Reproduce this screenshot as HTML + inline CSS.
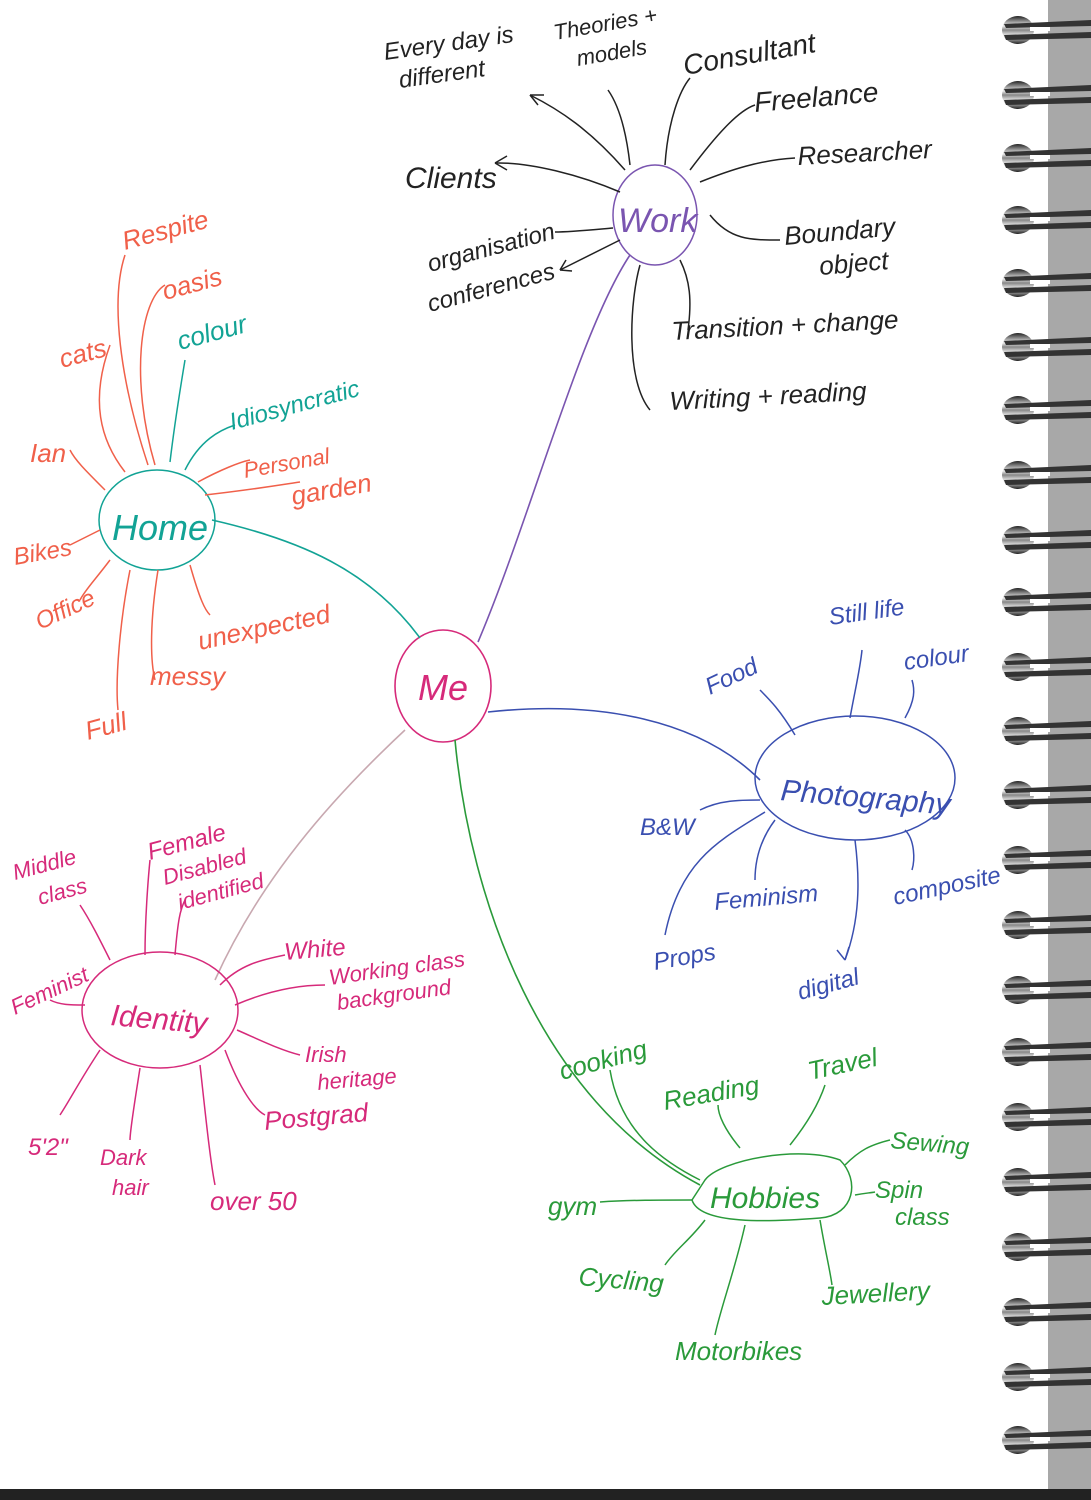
<!DOCTYPE html>
<html><head><meta charset="utf-8"><style>
html,body{margin:0;padding:0;background:#fff}
svg{display:block}
text{font-family:"Liberation Sans",sans-serif;font-style:italic}
</style></head><body>
<svg width="1091" height="1500" viewBox="0 0 1091 1500" xmlns="http://www.w3.org/2000/svg">
<defs>
<linearGradient id="ring" x1="0" y1="0" x2="0" y2="1">
<stop offset="0" stop-color="#222"/><stop offset="0.35" stop-color="#eee"/><stop offset="0.5" stop-color="#888"/><stop offset="0.7" stop-color="#eee"/><stop offset="1" stop-color="#222"/>
</linearGradient>
<g id="r">
<ellipse cx="1018" cy="0" rx="16" ry="14" fill="url(#ring)"/>
<path d="M1004,-6 L1091,-10 L1091,-4 L1006,-2 Z" fill="#333"/>
<path d="M1004,5 L1091,2 L1091,8 L1006,10 Z" fill="#333"/>
<rect x="1030" y="-3" width="20" height="4" fill="#fff"/>
</g>
</defs>
<rect x="1048" y="0" width="43" height="1500" fill="#a8a8a8"/>
<rect x="0" y="1489" width="1091" height="11" fill="#222"/>
<g>
<use href="#r" y="30"/><use href="#r" y="95"/><use href="#r" y="158"/><use href="#r" y="220"/><use href="#r" y="283"/><use href="#r" y="347"/><use href="#r" y="410"/><use href="#r" y="475"/><use href="#r" y="540"/><use href="#r" y="602"/><use href="#r" y="667"/><use href="#r" y="731"/><use href="#r" y="795"/><use href="#r" y="860"/><use href="#r" y="925"/><use href="#r" y="990"/><use href="#r" y="1052"/><use href="#r" y="1117"/><use href="#r" y="1182"/><use href="#r" y="1247"/><use href="#r" y="1312"/><use href="#r" y="1377"/><use href="#r" y="1440"/>
</g>

<!-- Me -->
<g fill="none" stroke-width="1.6">
<ellipse cx="443" cy="686" rx="48" ry="56" stroke="#d62a7a"/>
<path d="M212,520 C300,540 370,570 420,638" stroke="#12a395"/>
<path d="M478,642 C530,520 580,330 630,255" stroke="#7a55b0"/>
<path d="M488,712 C600,700 700,720 760,780" stroke="#3a4fb0"/>
<path d="M455,740 C470,900 540,1100 700,1185" stroke="#2a9a3a"/>
<path d="M405,730 C330,800 260,880 215,980" stroke="#c8a8b0"/>
</g>
<text x="418" y="700" font-size="36" fill="#d62a7a">Me</text>

<!-- Home -->
<g fill="none" stroke-width="1.5" stroke="#f0604a">
<ellipse cx="157" cy="520" rx="58" ry="50" stroke="#12a395"/>
<path d="M148,465 C120,380 110,300 125,255"/>
<path d="M155,465 C130,380 140,300 165,285"/>
<path d="M125,472 C100,440 90,400 110,345"/>
<path d="M105,490 C85,470 75,460 70,450"/>
<path d="M100,530 L70,545"/>
<path d="M110,560 C95,580 85,590 80,600"/>
<path d="M130,570 C120,620 115,680 118,710"/>
<path d="M158,570 C150,620 150,660 155,680"/>
<path d="M190,565 C200,600 205,610 210,615"/>
<path d="M205,495 C250,490 280,485 300,482"/>
<path d="M198,482 C220,470 240,462 250,460" stroke="#f0604a"/>
<path d="M185,470 C200,440 220,430 235,425" stroke="#12a395"/>
<path d="M170,462 C175,420 180,390 185,360" stroke="#12a395"/>
</g>
<text x="112" y="540" font-size="36" fill="#12a395">Home</text>
<g font-size="26" fill="#f0604a">
<text x="125" y="250" transform="rotate(-15 125 250)">Respite</text>
<text x="165" y="300" transform="rotate(-15 165 300)">oasis</text>
<text x="180" y="350" transform="rotate(-15 180 350)" fill="#12a395">colour</text>
<text x="62" y="368" transform="rotate(-15 62 368)">cats</text>
<text x="30" y="462">Ian</text>
<text x="232" y="430" transform="rotate(-15 232 430)" fill="#12a395" font-size="24">Idiosyncratic</text>
<text x="245" y="478" transform="rotate(-10 245 478)" font-size="22">Personal</text>
<text x="293" y="505" transform="rotate(-10 293 505)">garden</text>
<text x="15" y="565" transform="rotate(-10 15 565)" font-size="24">Bikes</text>
<text x="40" y="630" transform="rotate(-25 40 630)" font-size="24">Office</text>
<text x="200" y="650" transform="rotate(-12 200 650)">unexpected</text>
<text x="150" y="685">messy</text>
<text x="88" y="740" transform="rotate(-15 88 740)">Full</text>
</g>

<!-- Work -->
<g fill="none" stroke-width="1.5" stroke="#222">
<ellipse cx="655" cy="215" rx="42" ry="50" stroke="#7a55b0"/>
<path d="M625,170 C590,130 560,110 530,95"/>
<path d="M530,95 l14,0 M530,95 l8,10"/>
<path d="M630,165 C625,120 615,100 608,90"/>
<path d="M665,165 C668,120 680,90 690,78"/>
<path d="M690,170 C720,130 740,110 755,105"/>
<path d="M700,182 C730,170 760,160 795,158"/>
<path d="M620,192 C580,175 530,162 495,163"/>
<path d="M495,163 l12,-7 M495,163 l12,7"/>
<path d="M613,228 C590,230 570,232 555,232"/>
<path d="M620,240 C600,250 580,260 560,270"/>
<path d="M560,270 l6,-10 M560,270 l12,1"/>
<path d="M710,215 C730,240 750,240 780,240"/>
<path d="M680,260 C690,280 692,300 688,330"/>
<path d="M640,265 C630,300 625,380 650,410"/>
</g>
<text x="618" y="232" font-size="34" fill="#7a55b0">Work</text>
<g font-size="24" fill="#222">
<text x="385" y="60" transform="rotate(-8 385 60)">Every day is</text>
<text x="400" y="88" transform="rotate(-8 400 88)">different</text>
<text x="555" y="40" transform="rotate(-10 555 40)" font-size="22">Theories +</text>
<text x="578" y="66" transform="rotate(-10 578 66)" font-size="22">models</text>
<text x="685" y="75" transform="rotate(-10 685 75)" font-size="28">Consultant</text>
<text x="755" y="112" transform="rotate(-5 755 112)" font-size="28">Freelance</text>
<text x="798" y="165" transform="rotate(-3 798 165)" font-size="26">Researcher</text>
<text x="405" y="188" font-size="30">Clients</text>
<text x="430" y="272" transform="rotate(-15 430 272)">organisation</text>
<text x="430" y="312" transform="rotate(-15 430 312)">conferences</text>
<text x="785" y="245" transform="rotate(-5 785 245)" font-size="26">Boundary</text>
<text x="820" y="275" transform="rotate(-5 820 275)" font-size="26">object</text>
<text x="672" y="340" transform="rotate(-3 672 340)" font-size="26">Transition + change</text>
<text x="670" y="410" transform="rotate(-3 670 410)" font-size="26">Writing + reading</text>
</g>

<!-- Photography -->
<g fill="none" stroke-width="1.5" stroke="#3a4fb0">
<ellipse cx="855" cy="778" rx="100" ry="62" stroke="#3a4fb0"/>
<path d="M795,735 C780,710 770,700 760,690"/>
<path d="M850,718 C855,690 860,670 862,650"/>
<path d="M905,718 C915,700 915,690 912,680"/>
<path d="M760,800 C740,800 720,800 700,810"/>
<path d="M775,820 C760,840 755,860 755,880"/>
<path d="M765,812 C720,840 680,860 665,935"/>
<path d="M855,840 C860,880 860,920 845,960"/>
<path d="M845,960 l-8,-10 M845,960 l4,-13"/>
<path d="M905,830 C915,840 915,860 912,870"/>
</g>
<text x="780" y="800" font-size="30" fill="#3a4fb0" transform="rotate(5 780 800)">Photography</text>
<g font-size="24" fill="#3a4fb0">
<text x="710" y="695" transform="rotate(-25 710 695)">Food</text>
<text x="830" y="625" transform="rotate(-8 830 625)">Still life</text>
<text x="905" y="670" transform="rotate(-8 905 670)">colour</text>
<text x="640" y="835">B&amp;W</text>
<text x="715" y="910" transform="rotate(-5 715 910)">Feminism</text>
<text x="655" y="970" transform="rotate(-10 655 970)">Props</text>
<text x="895" y="905" transform="rotate(-12 895 905)">composite</text>
<text x="800" y="1000" transform="rotate(-15 800 1000)">digital</text>
</g>

<!-- Identity -->
<g fill="none" stroke-width="1.5" stroke="#d62a7a">
<ellipse cx="160" cy="1010" rx="78" ry="58"/>
<path d="M110,960 C100,940 90,920 80,905"/>
<path d="M145,955 C145,920 148,880 150,860"/>
<path d="M175,955 C178,920 180,910 185,900"/>
<path d="M220,985 C240,965 260,960 285,955"/>
<path d="M235,1005 C270,990 300,985 325,985"/>
<path d="M237,1030 C260,1040 280,1050 300,1055"/>
<path d="M225,1050 C240,1090 255,1110 265,1115"/>
<path d="M200,1065 C205,1110 210,1160 215,1185"/>
<path d="M140,1068 C135,1100 130,1130 130,1140"/>
<path d="M100,1050 C80,1080 70,1100 60,1115"/>
<path d="M85,1005 C70,1005 60,1005 50,1000"/>
</g>
<text x="110" y="1025" font-size="30" fill="#d62a7a" transform="rotate(5 110 1025)">Identity</text>
<g font-size="22" fill="#d62a7a">
<text x="15" y="880" transform="rotate(-15 15 880)">Middle</text>
<text x="40" y="905" transform="rotate(-15 40 905)">class</text>
<text x="150" y="860" transform="rotate(-15 150 860)" font-size="24">Female</text>
<text x="165" y="885" transform="rotate(-15 165 885)">Disabled</text>
<text x="180" y="910" transform="rotate(-15 180 910)">identified</text>
<text x="285" y="960" transform="rotate(-5 285 960)" font-size="24">White</text>
<text x="330" y="985" transform="rotate(-8 330 985)">Working class</text>
<text x="338" y="1010" transform="rotate(-8 338 1010)">background</text>
<text x="305" y="1062">Irish</text>
<text x="318" y="1090" transform="rotate(-5 318 1090)">heritage</text>
<text x="265" y="1130" transform="rotate(-5 265 1130)" font-size="26">Postgrad</text>
<text x="15" y="1015" transform="rotate(-25 15 1015)">Feminist</text>
<text x="28" y="1155" font-size="24">5'2"</text>
<text x="100" y="1165">Dark</text>
<text x="112" y="1195">hair</text>
<text x="210" y="1210" font-size="26">over 50</text>
</g>

<!-- Hobbies -->
<g fill="none" stroke-width="1.5" stroke="#2a9a3a">
<path d="M705,1180 C720,1160 800,1145 840,1160 C860,1180 855,1215 820,1218 C770,1222 700,1225 692,1200 Z"/>
<path d="M700,1180 C660,1160 620,1130 610,1070"/>
<path d="M740,1148 C725,1130 718,1115 718,1105"/>
<path d="M790,1145 C810,1120 820,1100 825,1085"/>
<path d="M845,1165 C860,1150 870,1145 890,1140"/>
<path d="M855,1195 C865,1193 870,1193 875,1192"/>
<path d="M820,1220 C825,1250 830,1270 832,1285"/>
<path d="M745,1225 C735,1270 720,1310 715,1335"/>
<path d="M705,1220 C690,1240 675,1250 665,1265"/>
<path d="M692,1200 C660,1200 630,1200 600,1202"/>
</g>
<text x="710" y="1208" font-size="30" fill="#2a9a3a">Hobbies</text>
<g font-size="26" fill="#2a9a3a">
<text x="562" y="1080" transform="rotate(-15 562 1080)">cooking</text>
<text x="665" y="1110" transform="rotate(-10 665 1110)">Reading</text>
<text x="810" y="1080" transform="rotate(-12 810 1080)">Travel</text>
<text x="890" y="1148" transform="rotate(5 890 1148)" font-size="24">Sewing</text>
<text x="875" y="1198" font-size="24">Spin</text>
<text x="895" y="1225" font-size="24">class</text>
<text x="548" y="1215">gym</text>
<text x="578" y="1285" transform="rotate(5 578 1285)">Cycling</text>
<text x="822" y="1305" transform="rotate(-3 822 1305)">Jewellery</text>
<text x="675" y="1360">Motorbikes</text>
</g>
</svg>
</body></html>
